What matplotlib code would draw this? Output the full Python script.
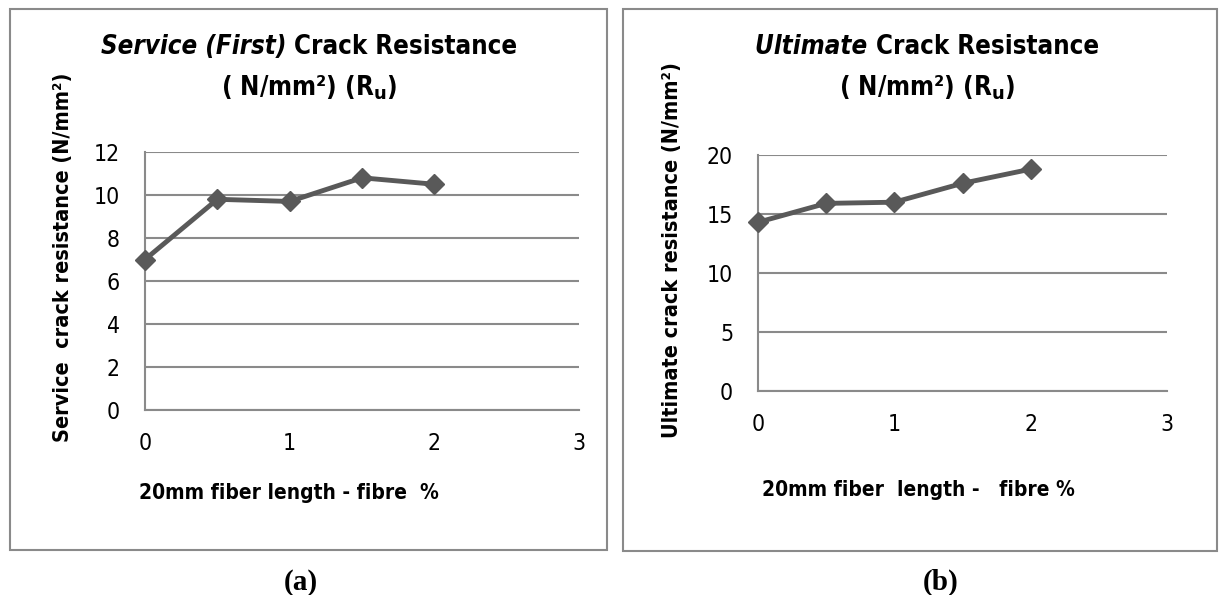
import matplotlib
matplotlib.use('Agg')
import matplotlib.pyplot as plt
from matplotlib import font_manager
from matplotlib.patches import Rectangle

# data
fibre_pct = [0, 0.5, 1, 1.5, 2]
service_res = [7.0, 9.8, 9.7, 10.8, 10.5]
ultimate_res = [14.3, 15.9, 16.0, 17.6, 18.8]

fonts = font_manager.fontManager.ttflist
names = {f.name for f in fonts}
has_cond = any(f.name == 'DejaVu Sans' and f.stretch == 'condensed' for f in fonts)
if 'Liberation Sans Narrow' in names:
    narrow, stretch = 'Liberation Sans Narrow', 'normal'
elif has_cond:
    narrow, stretch = 'DejaVu Sans', 'condensed'
else:
    narrow, stretch = 'Liberation Sans', 'normal'

plt.rcParams['mathtext.fontset'] = 'custom'
plt.rcParams['mathtext.rm'] = narrow + ':bold'
plt.rcParams['mathtext.bf'] = narrow + ':bold'

W, H = 1219, 595
fig = plt.figure(figsize=(W / 100, H / 100), dpi=100)
renderer = fig.canvas.get_renderer()

grey = '#8a8a8a'
line_col = '#595959'


def fx(px):
    return px / W


def fy(py):
    return 1 - py / H


def mixed_title(cx, py, it_part, rest, size):
    # italic run followed by upright run, centred together
    t1 = fig.text(0, fy(py), it_part, ha='left', va='center', fontsize=size,
                  family=narrow, fontstretch=stretch, weight='bold', style='italic')
    t2 = fig.text(0, fy(py), rest, ha='left', va='center', fontsize=size,
                  family=narrow, fontstretch=stretch, weight='bold')
    w1 = t1.get_window_extent(renderer).width
    w2 = t2.get_window_extent(renderer).width
    x0 = cx - (w1 + w2) / 2
    t1.set_x(fx(x0))
    t2.set_x(fx(x0 + w1))


def panel(rect, x, y, yticks, ylabel, xlabel, title_it, title_rest, frame, title_x,
          ylab_pos, xlab_pos, letter, letter_x):
    # outer chart frame
    fig.patches.append(Rectangle((fx(frame[0]), fy(frame[3])),
                                 fx(frame[2] - frame[0]), (frame[3] - frame[1]) / H,
                                 transform=fig.transFigure, fill=False,
                                 edgecolor=grey, linewidth=1.5))
    ax = fig.add_axes([fx(rect[0]), fy(rect[3]), fx(rect[2] - rect[0]), (rect[3] - rect[1]) / H])
    ax.plot(x, y, color=line_col, linewidth=3.5, marker='D', markersize=10.5,
            markerfacecolor=line_col, markeredgecolor=line_col, clip_on=False, zorder=5)
    ax.set_xlim(0, 3)
    ax.set_ylim(yticks[0], yticks[-1])
    ax.set_xticks([0, 1, 2, 3])
    ax.set_yticks(yticks)
    ax.yaxis.grid(True, color=grey, linewidth=1.5)
    ax.set_axisbelow(True)
    for s in ['top', 'right']:
        ax.spines[s].set_visible(False)
    for s in ['left', 'bottom']:
        ax.spines[s].set_color(grey)
        ax.spines[s].set_linewidth(1.5)
    ax.tick_params(length=0, labelsize=16.5)
    for lab in ax.get_xticklabels() + ax.get_yticklabels():
        lab.set_fontfamily(narrow)
        lab.set_fontstretch(stretch)
    ax.tick_params(axis='y', pad=18)
    ax.tick_params(axis='x', pad=16)

    mixed_title(title_x, 47, title_it, title_rest, 18.5)
    fig.text(fx(title_x), fy(88), r'( N/mm²) (R$_\mathrm{u}$)', ha='center', va='center',
             fontsize=18.5, family=narrow, fontstretch=stretch, weight='bold')
    fig.text(fx(ylab_pos[0]), fy(ylab_pos[1]), ylabel, rotation=90, ha='center', va='center',
             fontsize=15.5, family=narrow, fontstretch=stretch, weight='bold')
    fig.text(fx(xlab_pos[0]), fy(xlab_pos[1]), xlabel, ha='center', va='center',
             fontsize=15, family=narrow, fontstretch=stretch, weight='bold')
    fig.text(fx(letter_x), fy(582), letter, ha='center', va='center',
             fontsize=21, family='Liberation Serif', weight='bold')
    return ax


panel([145, 152, 579, 410], fibre_pct, service_res, [0, 2, 4, 6, 8, 10, 12],
      'Service  crack resistance (N/mm²)', '20mm fiber length - fibre  %',
      'Service (First) ', 'Crack Resistance',
      [10, 9, 607, 550], 309, (63, 257), (289, 493), '(a)', 301)

panel([758, 155, 1167, 391], fibre_pct, ultimate_res, [0, 5, 10, 15, 20],
      'Ultimate crack resistance (N/mm²)', '20mm fiber  length -   fibre %',
      'Ultimate ', 'Crack Resistance',
      [623, 9, 1217, 551], 927, (672, 250), (918, 490), '(b)', 941)

fig.savefig('out.png', dpi=100)
